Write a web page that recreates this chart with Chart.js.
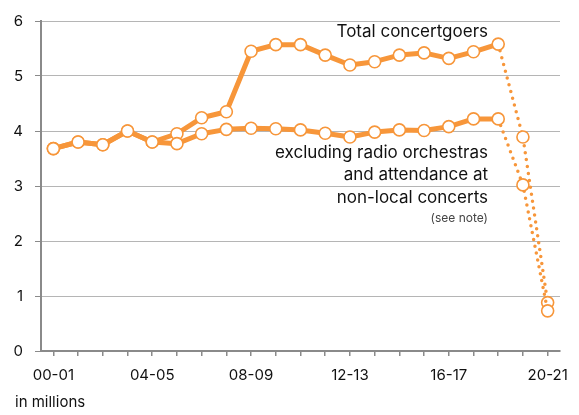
<!DOCTYPE html>
<html>
<head>
<meta charset="utf-8">
<script src="https://cdn.jsdelivr.net/npm/chart.js@4"></script>
<style>
  html, body { margin: 0; padding: 0; background: #fff; }
  #wrap { width: 579px; height: 415px; position: relative; }
</style>
</head>
<body>
<div id="wrap"><canvas id="grafico"></canvas></div>
<script>
// Dados do gráfico
const temporadas = ["00-01", "01-02", "02-03", "03-04", "04-05", "05-06", "06-07", "07-08",
  "08-09", "09-10", "10-11", "11-12", "12-13", "13-14", "14-15", "15-16", "16-17",
  "17-18", "18-19", "19-20", "20-21"];
const totalConcertgoers = [3.68, 3.80, 3.75, 4.00, 3.80, 3.95, 4.24, 4.35, 5.45, 5.57,
  5.57, 5.38, 5.20, 5.26, 5.38, 5.42, 5.32, 5.44, 5.58, 3.89, 0.88];
const semRadio = [3.68, 3.80, 3.75, 4.00, 3.80, 3.77, 3.95, 4.03, 4.05, 4.04,
  4.02, 3.96, 3.89, 3.98, 4.02, 4.01, 4.08, 4.22, 4.22, 3.02, 0.73];
const yTicks = [0, 1, 2, 3, 4, 5, 6];

const laranja = "#F7963A";
const fonte = "Inter, 'Liberation Sans', sans-serif";

function serie(dados) {
  return {
    data: dados,
    borderColor: laranja,
    borderWidth: 5,
    borderCapStyle: "round",
    borderJoinStyle: "round",
    pointRadius: 6,
    pointBorderWidth: 1.6,
    pointBackgroundColor: "#ffffff",
    pointBorderColor: laranja,
    tension: 0,
    segment: {
      borderDash: (c) => (c.p0DataIndex >= 18 ? [0, 7] : undefined),
      borderWidth: (c) => (c.p0DataIndex >= 18 ? 3.5 : undefined),
    },
  };
}

// Textos fixos (rótulos e unidade)
const textos = {
  id: "textos",
  afterDraw(chart) {
    const c = chart.ctx;
    const xr = chart.chartArea.left + 447;
    const y = chart.scales.y;
    c.save();
    c.fillStyle = "#111";
    c.textAlign = "right";
    c.textBaseline = "middle";
    c.font = "17px " + fonte;
    c.fillText("Total concertgoers", xr, y.getPixelForValue(5.8));
    c.fillText("excluding radio orchestras", xr, y.getPixelForValue(3.6));
    c.fillText("and attendance at", xr, y.getPixelForValue(3.21));
    c.fillText("non-local concerts", xr, y.getPixelForValue(2.79));
    c.fillStyle = "#444";
    c.font = "12px " + fonte;
    c.fillText("(see note)", xr, y.getPixelForValue(2.42));
    c.textAlign = "left";
    c.fillStyle = "#111";
    c.font = "15px " + fonte;
    c.fillText("in millions", 15, 402);
    c.restore();
  },
};

const config = {
  type: "line",
  data: {
    labels: temporadas,
    datasets: [serie(semRadio), serie(totalConcertgoers)],
  },
  options: {
    responsive: true,
    maintainAspectRatio: false,
    animation: false,
    layout: { padding: { top: 18, right: 19, left: 0, bottom: 0 } },
    plugins: {
      legend: { display: false },
      tooltip: { enabled: false },
    },
    scales: {
      x: {
        offset: true,
        afterFit: (s) => { s.height = 64; },
        grid: {
          offset: false,
          drawOnChartArea: false,
          tickLength: 5,
          color: "#8a8a8a",
          lineWidth: 1.5,
        },
        border: { color: "#8a8a8a", width: 2 },
        ticks: {
          autoSkip: false,
          maxRotation: 0,
          padding: 10,
          color: "#111",
          font: { family: fonte, size: 15 },
          callback: (v, i) => (i % 4 === 0 ? temporadas[i] : ""),
        },
      },
      y: {
        min: 0,
        max: 6,
        afterFit: (s) => { s.width = 41; },
        afterBuildTicks: (s) => { s.ticks = yTicks.map((v) => ({ value: v })); },
        grid: {
          color: "#b5b5b5",
          lineWidth: 1,
          borderDash: [1.5, 2.5],
          tickLength: 6,
          tickColor: "#8a8a8a",
          tickBorderDash: [],
        },
        border: { color: "#8a8a8a", width: 2 },
        ticks: {
          padding: 12,
          color: "#111",
          font: { family: fonte, size: 15 },
        },
      },
    },
  },
  plugins: [textos],
};

const ctx = document.getElementById("grafico").getContext("2d");
const grafico = new Chart(ctx, config);
</script>
</body>
</html>
